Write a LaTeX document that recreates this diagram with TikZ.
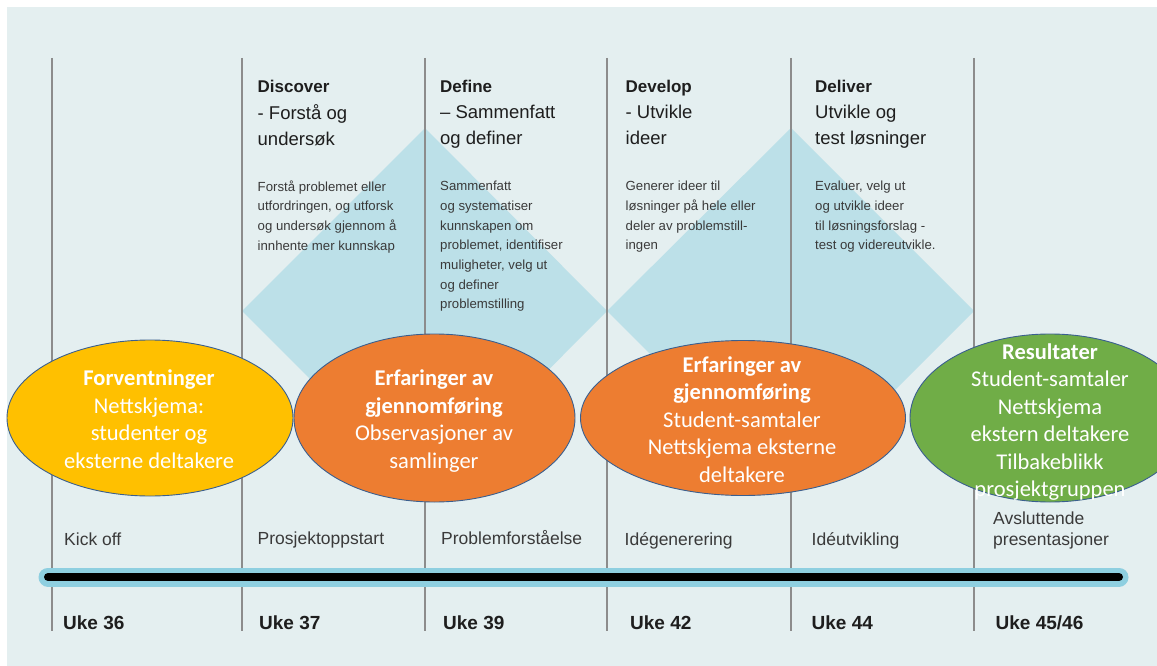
\documentclass[tikz,border=0pt]{standalone}
\usepackage{fontspec}
\setmainfont{Liberation Sans}
\newfontfamily\calfam{Carlito}
\usetikzlibrary{shapes.geometric}
\definecolor{bgc}{HTML}{E4EFF0}
\definecolor{diac}{HTML}{BCE0E8}
\definecolor{vlc}{HTML}{8C8C8C}
\definecolor{yel}{HTML}{FFC000}
\definecolor{org}{HTML}{ED7D31}
\definecolor{grn}{HTML}{70AD47}
\definecolor{ebd}{HTML}{3A5F8F}
\definecolor{tlb}{HTML}{8ECFE0}
\definecolor{txd}{HTML}{1E1E1E}
\definecolor{txg}{HTML}{3A3A3A}
\begin{document}
\begin{tikzpicture}[x=1pt,y=-1pt,
 ell/.style={ellipse, draw=ebd, line width=0.9pt, inner sep=0pt},
 etext/.style={text=white, align=center, inner sep=0pt, text depth=0pt, font=\calfam\fontsize{22.5}{27.5}\selectfont},
 hbold/.style={anchor=west, inner sep=0pt, text height=12.2pt, text depth=0pt, text=txd, font=\bfseries\fontsize{17}{20}\selectfont},
 hsub/.style={anchor=west, inner sep=0pt, text depth=0pt, align=left, text=txd, font=\fontsize{18.5}{26}\selectfont},
 desc/.style={anchor=west, inner sep=0pt, text depth=0pt, align=left, text=txg, font=\fontsize{13.2}{19.7}\selectfont},
 lab/.style={anchor=west, inner sep=0pt, text height=12.6pt, text depth=0pt, text=txg, font=\fontsize{17.5}{21}\selectfont},
 labm/.style={anchor=west, inner sep=0pt, text depth=0pt, align=left, text=txg, font=\fontsize{17.5}{21}\selectfont},
 week/.style={anchor=west, inner sep=0pt, text height=13.7pt, text depth=0pt, text=txd, font=\bfseries\fontsize{19}{22}\selectfont},
 vline/.style={draw=vlc, line width=1.1pt},
 diam/.style={fill=diac},
]
\useasboundingbox (0,0) rectangle (1157,666);
\clip (0,0) rectangle (1157,666);
\fill[white] (0,0) rectangle (1157,666);
\fill[bgc] (7,7) rectangle (1157,666);

% diamonds
\fill[diam] (242,311) -- (425,128) -- (607,311) -- (425,494) -- cycle;
\fill[diam] (607,311) -- (791,128) -- (974,311) -- (791,494) -- cycle;

% vertical lines
\foreach \i/\x in {1/52,2/242,3/425,4/607,5/791,6/974}{
  \coordinate (vt\i) at (\x,58);
  \coordinate (vb\i) at (\x,631);
  \draw[vline] (vt\i) -- (vb\i);
}

% headers
\node[hbold] (h1) at (257.5,86) {Discover};
\node[hsub] (s1) at (257.5,125) {- Forstå og\\undersøk};
\node[desc] (d1) at (257.5,215.5) {Forstå problemet eller\\utfordringen, og utforsk\\og undersøk gjennom å\\innhente mer kunnskap};

\node[hbold] (h2) at (440,86) {Define};
\node[hsub] (s2) at (440,125) {– Sammenfatt\\og definer};
\node[desc] (d2) at (440,245) {Sammenfatt\\og systematiser\\kunnskapen om\\problemet, identifiser\\muligheter, velg ut\\og definer\\problemstilling};

\node[hbold] (h3) at (625.5,86) {Develop};
\node[hsub] (s3) at (625.5,125) {- Utvikle\\ideer};
\node[desc] (d3) at (625.5,215.5) {Generer ideer til\\løsninger på hele eller\\deler av problemstill-\\ingen};

\node[hbold] (h4) at (815,86) {Deliver};
\node[hsub] (s4) at (815,125) {Utvikle og\\test løsninger};
\node[desc] (d4) at (815,215.5) {Evaluer, velg ut\\og utvikle ideer\\til løsningsforslag -\\test og videreutvikle.};

% ellipses
\node[ell, fill=yel, minimum width=286, minimum height=156] (e1) at (150,418) {};
\node[ell, fill=org, minimum width=281, minimum height=168] (e2) at (434.5,418) {};
\node[ell, fill=org, minimum width=325, minimum height=155] (e3) at (743,418) {};
\node[ell, fill=grn, minimum width=280, minimum height=168] (e4) at (1050,418) {};

\node[etext] (t1) at (149,419) {\textbf{Forventninger}\\Nettskjema:\\studenter og\\eksterne deltakere};
\node[etext] (t2) at (434,419) {\textbf{Erfaringer av}\\\textbf{gjennomføring}\\Observasjoner av\\samlinger};
\node[etext] (t3) at (742,419.5) {\textbf{Erfaringer av}\\\textbf{gjennomføring}\\Student-samtaler\\Nettskjema eksterne\\deltakere};
\node[etext] (t4) at (1050,420) {\textbf{Resultater}\\Student-samtaler\\Nettskjema\\ekstern deltakere\\Tilbakeblikk\\prosjektgruppen};

% phase labels
\node[lab] (l1) at (64,539.5) {Kick off};
\node[lab] (l2) at (257.5,538.5) {Prosjektoppstart};
\node[lab] (l3) at (441,538.5) {Problemforståelse};
\node[lab] (l4) at (624.5,539) {Idégenerering};
\node[lab] (l5) at (811.5,539) {Idéutvikling};
\node[labm] (l6) at (993,528.5) {Avsluttende\\presentasjoner};

% timeline
\coordinate (tl0) at (48,577);
\coordinate (tl1) at (1119,577);
\draw[tlb, line width=19pt, line cap=round] (tl0) -- (tl1);
\draw[black, line width=8pt, line cap=round] (tl0) -- (tl1);

% weeks
\node[week] (w1) at (63,622.5) {Uke 36};
\node[week] (w2) at (259,622.5) {Uke 37};
\node[week] (w3) at (443,622.5) {Uke 39};
\node[week] (w4) at (630,622.5) {Uke 42};
\node[week] (w5) at (811.5,622.5) {Uke 44};
\node[week] (w6) at (995.5,622.5) {Uke 45/46};
\end{tikzpicture}
\end{document}
